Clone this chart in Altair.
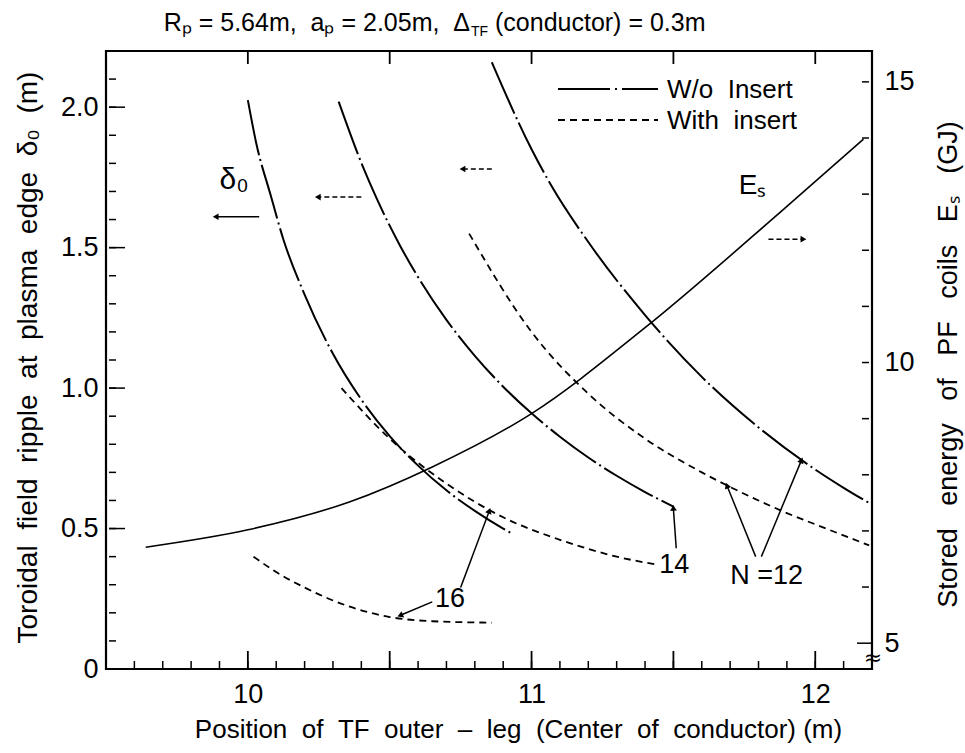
import math
import altair as alt
import pandas as pd

FONT = "Liberation Sans"
NB = "\u00a0"

# ---------------- data ----------------
# W/o insert (dash-dot) : delta_0 (m) vs TF outer-leg position (m)
x16_wo = [10.0, 10.03, 10.08, 10.125, 10.2, 10.3, 10.4, 10.5, 10.6, 10.7, 10.8, 10.9, 10.93]
y16_wo = [2.025, 1.87, 1.688, 1.53, 1.333, 1.122, 0.959, 0.829, 0.724, 0.636, 0.563, 0.50, 0.483]
x14_wo = [10.32, 10.408, 10.45, 10.537, 10.6, 10.7, 10.8, 10.9, 11.0, 11.1, 11.2, 11.3, 11.4, 11.5]
y14_wo = [2.02, 1.782, 1.684, 1.506, 1.395, 1.243, 1.115, 1.005, 0.91, 0.827, 0.753, 0.688, 0.63, 0.578]
x12_wo = [10.86, 11.0, 11.07, 11.2, 11.4, 11.6, 11.8, 12.0, 12.1, 12.2]
y12_wo = [2.16, 1.85, 1.72, 1.52, 1.26, 1.04, 0.86, 0.71, 0.645, 0.585]
# With insert (dashed)
x12_in = [10.78, 11.0, 11.2, 11.4, 11.6, 11.8, 11.9, 12.0, 12.19]
y12_in = [1.55, 1.20, 0.98, 0.82, 0.70, 0.60, 0.555, 0.515, 0.44]
x14_in = [10.33, 10.5, 10.7, 10.9, 11.1, 11.3, 11.45]
y14_in = [1.00, 0.82, 0.66, 0.54, 0.46, 0.40, 0.37]
x16_in = [10.02, 10.1, 10.2, 10.35, 10.5, 10.65, 10.86]
y16_in = [0.40, 0.345, 0.29, 0.225, 0.185, 0.17, 0.165]
# Stored energy of PF coils (GJ), right axis
x_es = [9.64, 10.0, 10.36, 10.65, 11.0, 11.4, 11.877, 12.17]
es_gj = [6.71, 7.02, 7.52, 8.14, 9.09, 10.62, 12.68, 13.98]

# axis ticks / labels
x_labels = [10, 11, 12]
x_major = [10.0, 10.5, 11.0, 11.5, 12.0]
x_minor = [round(9.6 + 0.1 * i, 1) for i in range(26)]
y_labels = [0, 0.5, 1.0, 1.5, 2.0]
y_major = [0.5, 1.0, 1.5, 2.0]
y_minor = [round(0.1 * i, 1) for i in range(1, 22)]
e_labels = [5, 10, 15]
e_minor = [6, 7, 8, 9, 10, 11, 12, 13, 14, 15]

# annotations (data coords, left axis)
arrows = [  # x0, y0, x1(tip), y1(tip), dashed
    (10.04, 1.61, 9.89, 1.61, 0),
    (10.40, 1.68, 10.25, 1.68, 1),
    (10.86, 1.78, 10.76, 1.78, 1),
    (11.835, 1.53, 11.955, 1.53, 1),
    (10.75, 0.29, 10.85, 0.56, 0),
    (10.65, 0.239, 10.54, 0.192, 0),
    (11.51, 0.43, 11.50, 0.57, 0),
    (11.79, 0.40, 11.69, 0.65, 0),
    (11.81, 0.40, 11.95, 0.74, 0),
]
labels = [  # x, y, text, size
    (9.90, 1.74, "δ₀", 30),
    (11.73, 1.72, "Eₛ", 28),
    (10.66, 0.25, "16", 27),
    (11.45, 0.37, "14", 27),
    (11.70, 0.33, "N" + NB + "=12", 27),
]

W, H = 766, 618
XD, YD, ED = [9.5, 12.2], [0, 2.2], [4.54, 15.55]
PX_X = W / (XD[1] - XD[0])
PX_Y = H / (YD[1] - YD[0])

xs = alt.Scale(domain=XD, nice=False, zero=False)
ys = alt.Scale(domain=YD, nice=False, zero=False)
es = alt.Scale(domain=ED, nice=False, zero=False)


def frame(xv, yv, name):
    return pd.DataFrame({"x": xv, "y": yv, "curve": name, "i": range(len(xv))})


df_wo = pd.concat([frame(x16_wo, y16_wo, "16"), frame(x14_wo, y14_wo, "14"), frame(x12_wo, y12_wo, "12")])
df_in = pd.concat([frame(x12_in, y12_in, "12"), frame(x14_in, y14_in, "14"), frame(x16_in, y16_in, "16")])
df_es = pd.DataFrame({"x": x_es, "E": es_gj})


def spaced(s, n=2):
    return s.replace(" ", NB * n)


xaxis = alt.Axis(values=x_labels, format="d", ticks=False, domain=False, grid=False, labelFont=FONT,
                 labelFontSize=27, labelColor="black", labelPadding=12, labelFlush=False,
                 title=spaced("Position of TF outer – leg (Center of conductor)") + NB + "(m)",
                 titleFont=FONT, titleFontSize=26, titleFontWeight="normal", titleColor="black",
                 titlePadding=9, titleX=W / 2 + 29)
yaxis = alt.Axis(values=y_labels, ticks=False, domain=False, grid=False, labelFont=FONT,
                 labelFontSize=27, labelColor="black", labelPadding=8, labelFlush=False,
                 labelExpr="datum.value == 0 ? '0' : format(datum.value, '.1f')",
                 title=spaced("Toroidal field ripple at plasma edge δ₀ (m)"),
                 titleFont=FONT, titleFontSize=28, titleFontWeight="normal", titleColor="black",
                 titleX=-78, titleY=306, titleAngle=270, titleBaseline="middle", titleAlign="center")
eaxis = alt.Axis(values=e_labels, format="d", ticks=False, domain=False, grid=False, labelFont=FONT,
                 labelFontSize=27, labelColor="black", labelPadding=12, labelFlush=False,
                 orient="right",
                 title=spaced("Stored energy of PF coils Eₛ (GJ)", 3),
                 titleFont=FONT, titleFontSize=27, titleFontWeight="normal", titleColor="black",
                 titleX=76, titleY=313, titleAngle=270, titleBaseline="middle", titleAlign="center")

X = alt.X("x:Q", scale=xs, axis=xaxis)
Y = alt.Y("y:Q", scale=ys, axis=yaxis)

wo = alt.Chart(df_wo).mark_line(stroke="black", strokeWidth=2, strokeDash=[56, 4, 2, 4],
                                interpolate="monotone").encode(
    x=X, y=Y, detail="curve:N", order="i:Q")
ins = alt.Chart(df_in).mark_line(stroke="black", strokeWidth=1.8, strokeDash=[7, 5],
                                 interpolate="monotone").encode(
    x=alt.X("x:Q", scale=xs), y=alt.Y("y:Q", scale=ys), detail="curve:N", order="i:Q")

# inward ticks
xt_minor = alt.Chart(pd.DataFrame({"x": x_minor})).mark_rule(color="black", strokeWidth=1.5).encode(
    x=alt.X("x:Q", scale=xs), y=alt.value(H), y2=alt.value(H - 8))
xt_major = alt.Chart(pd.DataFrame({"x": x_major})).mark_rule(color="black", strokeWidth=1.8).encode(
    x=alt.X("x:Q", scale=xs), y=alt.value(H), y2=alt.value(H - 18))
xt_top = alt.Chart(pd.DataFrame({"x": x_major})).mark_rule(color="black", strokeWidth=1.8).encode(
    x=alt.X("x:Q", scale=xs), y=alt.value(0), y2=alt.value(13))
yt_minor = alt.Chart(pd.DataFrame({"y": y_minor})).mark_rule(color="black", strokeWidth=1.5).encode(
    y=alt.Y("y:Q", scale=ys), x=alt.value(3), x2=alt.value(10))
yt_major = alt.Chart(pd.DataFrame({"y": y_major})).mark_rule(color="black", strokeWidth=1.5).encode(
    y=alt.Y("y:Q", scale=ys), x=alt.value(3), x2=alt.value(19))

# arrows
adf = pd.DataFrame(arrows, columns=["x0", "y0", "x1", "y1", "dashed"])
adf["angle"] = [
    (math.degrees(math.atan2((r.x1 - r.x0) * PX_X, (r.y1 - r.y0) * PX_Y)) + 360) % 360
    for r in adf.itertuples()
]
shaft_solid = alt.Chart(adf[adf.dashed == 0]).mark_rule(color="black", strokeWidth=1.5).encode(
    x=alt.X("x0:Q", scale=xs), y=alt.Y("y0:Q", scale=ys), x2="x1:Q", y2="y1:Q")
shaft_dash = alt.Chart(adf[adf.dashed == 1]).mark_rule(color="black", strokeWidth=1.5,
                                                        strokeDash=[5, 3]).encode(
    x=alt.X("x0:Q", scale=xs), y=alt.Y("y0:Q", scale=ys), x2="x1:Q", y2="y1:Q")
heads = alt.Chart(adf).mark_point(shape="triangle", filled=True, color="black", size=45,
                                  opacity=1).encode(
    x=alt.X("x1:Q", scale=xs), y=alt.Y("y1:Q", scale=ys), angle=alt.Angle("angle:Q", scale=None))

ldf = pd.DataFrame(labels, columns=["x", "y", "text", "size"])
label_layers = [
    alt.Chart(ldf[ldf["size"] == s]).mark_text(font=FONT, fontSize=s, align="left",
                                               baseline="middle", color="black").encode(
        x=alt.X("x:Q", scale=xs), y=alt.Y("y:Q", scale=ys), text="text:N")
    for s in sorted(ldf["size"].unique())
]

# legend (inside plot, top right)
leg_wo = alt.Chart(pd.DataFrame({"a": [0]})).mark_rule(stroke="black", strokeWidth=2,
                                                      strokeDash=[52, 5, 2, 5]).encode(
    x=alt.value(452), x2=alt.value(552), y=alt.value(38))
leg_in = alt.Chart(pd.DataFrame({"a": [0]})).mark_rule(stroke="black", strokeWidth=1.8,
                                                      strokeDash=[7, 5]).encode(
    x=alt.value(452), x2=alt.value(552), y=alt.value(69))
leg_txt1 = alt.Chart(pd.DataFrame({"t": ["W/o" + NB + NB + "Insert"]})).mark_text(
    font=FONT, fontSize=26, align="left", baseline="middle", color="black").encode(
    x=alt.value(561), y=alt.value(39), text="t:N")
leg_txt2 = alt.Chart(pd.DataFrame({"t": ["With" + NB + NB + "insert"]})).mark_text(
    font=FONT, fontSize=26, align="left", baseline="middle", color="black").encode(
    x=alt.value(561), y=alt.value(70), text="t:N")

# title: first part right-aligned at the delta, then the TF subscript, then the rest
TA = 364  # x (plot px) where "Δ" ends
TY = -20
title_a = alt.Chart(pd.DataFrame({"t": ["Rₚ" + NB + "=" + NB + "5.64m," + NB + NB + "aₚ" + NB + "="
                                        + NB + "2.05m," + NB + NB + "Δ"]})).mark_text(
    font=FONT, fontSize=25, align="right", baseline="alphabetic", color="black").encode(
    x=alt.value(TA), y=alt.value(TY), text="t:N")
title_b = alt.Chart(pd.DataFrame({"t": ["TF"]})).mark_text(
    font=FONT, fontSize=14, align="left", baseline="alphabetic", color="black").encode(
    x=alt.value(TA + 1), y=alt.value(TY + 5), text="t:N")
title_c = alt.Chart(pd.DataFrame({"t": ["(conductor)" + NB + "=" + NB + "0.3m"]})).mark_text(
    font=FONT, fontSize=25, align="left", baseline="alphabetic", color="black").encode(
    x=alt.value(TA + 25), y=alt.value(TY), text="t:N")
title_layers = [title_a, title_b, title_c]

left = alt.layer(wo, ins, xt_minor, xt_major, xt_top, yt_minor, yt_major,
                 shaft_solid, shaft_dash, heads, *label_layers,
                 leg_wo, leg_in, leg_txt1, leg_txt2, *title_layers)

es_line = alt.Chart(df_es).mark_line(stroke="black", strokeWidth=1.6, interpolate="monotone").encode(
    x=alt.X("x:Q", scale=xs), y=alt.Y("E:Q", scale=es, axis=eaxis))
et_minor = alt.Chart(pd.DataFrame({"E": e_minor})).mark_rule(color="black", strokeWidth=1.5).encode(
    y=alt.Y("E:Q", scale=es), x=alt.value(W - 3), x2=alt.value(W - 10))
et_five = alt.Chart(pd.DataFrame({"E": [5]})).mark_rule(color="black", strokeWidth=1.5).encode(
    y=alt.Y("E:Q", scale=es), x=alt.value(W), x2=alt.value(W - 15))
brk = alt.Chart(pd.DataFrame({"E": [4.74], "t": ["≈"]})).mark_text(
    fontSize=22, color="black", font="DejaVu Sans", baseline="middle").encode(
    y=alt.Y("E:Q", scale=es), x=alt.value(W + 1), text="t:N")
right = alt.layer(es_line, et_minor, et_five, brk)

chart = alt.layer(left, right).resolve_scale(y="independent").resolve_axis(y="independent").properties(
    width=W, height=H,
    autosize=alt.AutoSizeParams(type="none"),
    padding={"left": 106, "top": 51, "right": 93, "bottom": 84},
    background="white",
).configure_view(stroke="black", strokeWidth=2.2)

chart.save("out.html", embed_options={"renderer": "svg", "actions": False})
